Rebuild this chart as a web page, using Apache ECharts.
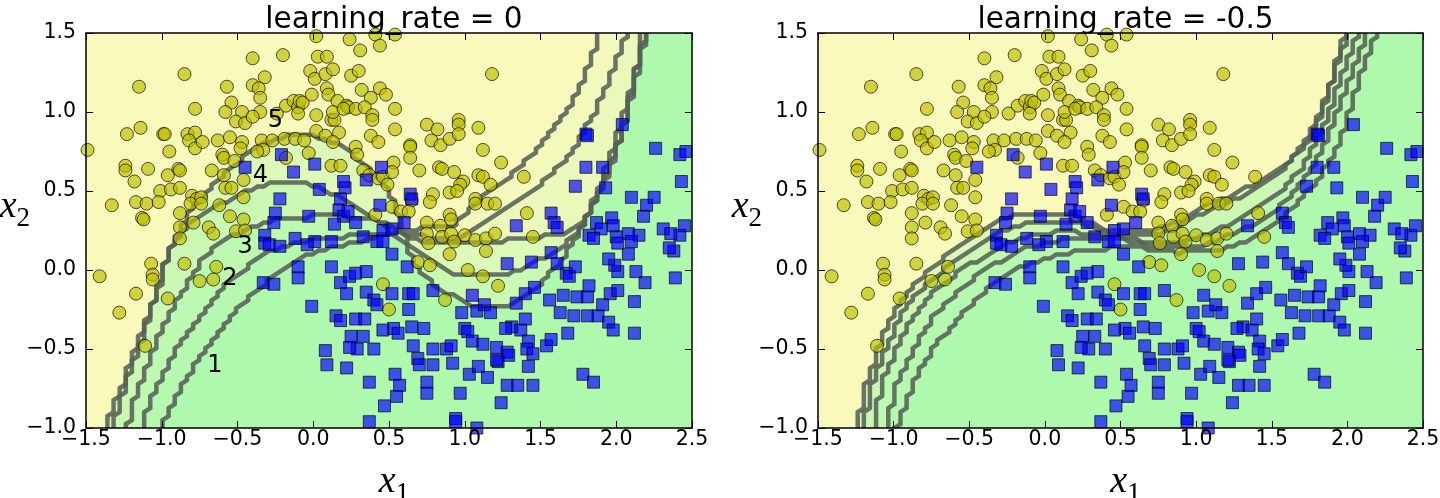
<!DOCTYPE html>
<html><head><meta charset="utf-8">
<script src="https://cdn.jsdelivr.net/npm/echarts@6/dist/echarts.min.js"></script>
<style>html,body{margin:0;padding:0;background:#fff}#c{width:1440px;height:498px}</style>
</head><body><div id="c"></div>
<script>
// ---------------- data ----------------
const titles = ['learning_rate = 0', 'learning_rate = -0.5'];
const xTickValues = [-1.5, -1.0, -0.5, 0.0, 0.5, 1.0, 1.5, 2.0, 2.5];
const xTickLabels = ['\u22121.5', '\u22121.0', '\u22120.5', '0.0', '0.5', '1.0', '1.5', '2.0', '2.5'];
const yTickValues = [-1.0, -0.5, 0.0, 0.5, 1.0, 1.5];
const yTickLabels = ['\u22121.0', '\u22120.5', '0.0', '0.5', '1.0', '1.5'];

// class 0 (yellow circles)
const yellowPts = [
[0.02,1.48],[0.24,1.46],[0.41,1.49],[0.44,1.42],[0.54,1.49],[0.31,1.39],[-0.4,1.34],[-0.2,1.36],[0.03,1.35],[0.09,1.35],
[-0.85,1.24],[-1.15,1.16],[-0.57,1.16],[-0.32,1.22],[-0.02,1.26],[0.01,1.21],[0.08,1.24],[0.13,1.27],[0.25,1.23],[0.3,1.26],
[-0.4,1.17],[-0.36,1.15],[-0.35,1.09],[0.09,1.15],[0.1,1.11],[0.16,1.07],[0.22,1.04],[0.32,1.14],[0.38,1.09],[0.44,1.15],
[0.48,1.11],[0.54,1.02],[-0.78,1.02],[-0.54,1.06],[-0.58,1.0],[-0.47,1.0],[-0.35,1.0],[-0.51,0.94],[-0.45,0.93],[-0.4,0.97],
[-0.24,0.99],[-0.18,1.04],[-0.13,1.07],[-0.1,1.03],[-0.09,1.07],[-0.07,1.06],[-0.01,1.11],[0.02,0.98],[-0.1,0.99],[0.12,0.95],
[0.14,0.95],[0.13,1.0],[0.23,1.03],[0.2,1.02],[0.28,1.02],[0.34,1.03],[0.39,0.98],[0.39,0.95],[-1.23,0.86],[-1.14,0.9],
[-0.99,0.86],[-0.98,0.86],[-0.83,0.86],[-0.78,0.87],[-0.82,0.82],[-0.78,0.77],[-0.73,0.81],[-0.95,0.75],[-0.63,0.82],[-0.55,0.84],
[-0.6,0.73],[-0.59,0.71],[-0.52,0.69],[-0.47,0.81],[-0.48,0.77],[-0.34,0.82],[-0.27,0.82],[-0.19,0.83],[-0.12,0.83],[-0.06,0.82],
[-0.33,0.76],[-0.37,0.75],[-0.03,0.74],[0.02,0.88],[0.08,0.85],[0.17,0.87],[0.13,0.81],[0.12,0.66],[0.18,0.66],[0.28,0.78],
[0.29,0.73],[0.38,0.85],[0.43,0.81],[-1.24,0.66],[-1.24,0.63],[-1.18,0.56],[-1.09,0.64],[-0.96,0.6],[-0.89,0.64],[-0.88,0.63],
[-1.01,0.5],[-0.94,0.51],[-0.88,0.52],[-1.17,0.43],[-1.1,0.42],[-1.02,0.43],[-1.33,0.41],[-1.13,0.33],[-1.12,0.32],[-0.88,0.36],
[-0.8,0.47],[-0.77,0.45],[-0.81,0.42],[-0.79,0.3],[-0.74,0.46],[-0.74,0.42],[-0.69,0.27],[-0.66,0.23],[-0.62,0.41],[-0.59,0.6],
[-0.58,0.52],[-0.54,0.52],[-0.46,0.57],[-0.46,0.46],[-0.67,0.63],[-0.51,0.245],[-0.46,0.32],[-0.45,0.25],[-0.55,0.34],[-0.88,0.27],
[-0.88,0.2],[-0.18,0.71],[0.33,0.63],[0.37,0.6],[0.43,0.58],[0.46,0.59],[0.41,0.35],[-1.49,0.76],[0.53,0.68],[0.52,0.62],
[0.52,0.4],[1.18,1.24],[0.54,0.89],[0.75,0.92],[0.82,0.89],[0.78,0.82],[0.84,0.79],[0.9,0.83],[0.96,0.95],[0.96,0.92],
[0.96,0.86],[1.09,0.9],[1.12,0.76],[1.24,0.68],[0.64,0.79],[0.64,0.78],[0.64,0.71],[0.49,0.54],[0.7,0.63],[0.83,0.65],
[0.85,0.64],[0.93,0.62],[0.99,0.56],[0.97,0.54],[0.9,0.49],[0.95,0.5],[1.09,0.6],[1.12,0.59],[1.17,0.54],[1.07,0.45],
[1.07,0.42],[1.15,0.42],[1.2,0.42],[0.79,0.48],[0.77,0.43],[0.65,0.44],[0.58,0.37],[0.63,0.37],[1.39,0.59],[1.41,0.36],
[0.75,0.3],[0.84,0.28],[0.9,0.35],[0.91,0.32],[-1.07,0.04],[-1.06,-0.03],[-1.06,-0.06],[-1.41,-0.04],[-1.17,-0.15],[-1.28,-0.27],
[-0.96,-0.18],[-0.85,0.04],[-0.75,-0.07],[-0.66,-0.06],[-0.64,0.02],[-1.11,-0.48],[0.75,0.23],[0.85,0.21],[0.91,0.23],[1.0,0.22],
[1.07,0.19],[1.14,0.2],[1.2,0.23],[1.45,0.21],[0.93,0.18],[1.14,0.12],[0.9,0.1],[0.76,0.17],[0.69,0.05],[0.77,0.03],
[1.02,0.0],[1.12,-0.04],[1.22,-0.1],[0.87,-0.19],[0.5,-0.25],[0.46,-0.09]
];

// class 1 (blue squares)
const bluePts = [
[-0.21,0.73],[-0.45,0.65],[-0.13,0.62],[0.01,0.67],[0.2,0.56],[0.21,0.52],[0.35,0.57],[0.45,0.65],[0.04,0.51],[-0.22,0.45],
[0.18,0.45],[-0.03,0.34],[-0.25,0.36],[-0.26,0.3],[0.17,0.38],[0.2,0.34],[0.23,0.37],[0.14,0.29],[0.28,0.3],[0.33,0.21],
[0.44,0.41],[0.46,0.25],[0.52,0.26],[-0.32,0.22],[-0.12,0.2],[0.01,0.18],[0.12,0.18],[1.8,0.86],[1.81,0.85],[2.04,0.92],
[2.26,0.77],[2.42,0.73],[2.46,0.75],[2.43,0.56],[1.8,0.65],[1.91,0.65],[1.73,0.53],[1.93,0.52],[2.1,0.46],[2.2,0.41],
[2.25,0.46],[2.18,0.34],[2.31,0.26],[2.42,0.22],[2.15,0.22],[0.64,0.48],[0.65,0.45],[0.6,0.3],[1.34,0.28],[1.57,0.36],
[1.59,0.3],[1.61,0.27],[1.87,0.3],[1.97,0.33],[1.98,0.28],[1.9,0.26],[1.82,0.22],[1.85,0.2],[2.0,0.21],[2.08,0.23],
[2.45,0.28],[2.36,0.23],[-0.33,-0.08],[-0.26,-0.09],[-0.32,0.17],[-0.29,0.16],[-0.22,0.15],[-0.04,0.16],[-0.1,0.02],[-0.1,-0.05],
[0.12,0.02],[-0.01,-0.23],[0.18,-0.08],[0.24,-0.04],[0.28,-0.02],[0.35,-0.01],[0.22,-0.15],[0.35,-0.14],[0.4,-0.19],[0.42,-0.22],
[0.15,-0.29],[0.18,-0.32],[0.28,-0.31],[0.34,-0.31],[0.25,-0.42],[0.33,-0.42],[0.4,-0.5],[0.29,-0.5],[0.24,-0.49],[0.08,-0.51],
[0.09,-0.6],[0.22,-0.62],[0.37,-0.71],[0.47,-0.86],[0.37,-0.96],[0.52,-0.15],[0.53,-0.37],[0.54,-0.66],[0.55,-0.8],[0.42,0.18],
[0.46,0.18],[0.52,0.1],[0.62,0.02],[0.63,-0.15],[0.66,-0.15],[0.79,-0.13],[0.63,-0.25],[0.46,-0.38],[0.56,-0.4],[0.65,-0.36],
[0.73,-0.37],[0.66,-0.48],[0.79,-0.5],[0.88,-0.5],[0.91,-0.48],[1.0,-0.37],[1.02,-0.39],[1.05,-0.45],[1.12,-0.47],[1.21,-0.49],
[1.28,-0.52],[1.29,-0.54],[1.22,-0.58],[1.31,-0.36],[1.27,-0.37],[1.37,-0.38],[1.4,-0.31],[1.42,-0.45],[1.41,-0.5],[1.45,-0.53],
[1.42,-0.61],[1.54,-0.48],[1.57,-0.44],[1.68,-0.4],[1.56,-0.19],[1.65,-0.16],[1.74,-0.17],[1.81,-0.17],[1.82,-0.1],[1.63,-0.27],
[1.72,-0.29],[1.81,-0.29],[1.88,-0.29],[1.91,-0.22],[1.96,-0.15],[2.01,-0.13],[1.95,-0.33],[1.98,-0.38],[2.12,-0.4],[2.12,-0.2],
[2.19,-0.08],[2.39,-0.05],[2.13,-0.01],[2.01,-0.01],[1.99,0.03],[1.95,0.07],[2.08,0.1],[2.01,0.17],[2.38,0.12],[2.35,0.14],
[2.1,0.18],[1.78,-0.66],[1.85,-0.71],[0.57,-0.73],[0.75,-0.71],[0.75,-0.78],[0.97,-0.78],[1.24,-0.84],[1.28,-0.73],[1.35,-0.73],
[1.45,-0.73],[1.03,-0.66],[1.09,-0.61],[1.15,-0.68],[1.21,-0.57],[0.92,-0.59],[0.79,-0.6],[0.69,-0.56],[0.7,-0.6],[0.94,-0.94],
[0.94,-0.96],[1.08,-1.0],[0.98,-0.27],[1.08,-0.26],[1.13,-0.22],[1.17,-0.27],[1.34,-0.21],[1.4,-0.15],[1.46,-0.11],[1.28,0.04],
[1.44,0.05],[1.57,0.11],[1.61,0.04],[1.67,-0.02],[1.69,-0.04],[1.73,0.02],[1.05,-0.16]
];

// decision boundaries of the 5 successive predictors (left subplot)
const leftBoundary1 = [[-1.0,-1.0],[-0.94,-0.87],[-0.88,-0.76],[-0.77,-0.59],[-0.66,-0.45],[-0.57,-0.32],[-0.46,-0.21],[-0.34,-0.1],[-0.22,-0.01],[-0.09,0.07],[0.05,0.12],[0.2,0.16],[0.35,0.19],[0.5,0.23],[0.6,0.255],[0.75,0.265],[0.92,0.28],[1.0,0.34],[1.1,0.45],[1.21,0.54],[1.32,0.61],[1.41,0.7],[1.5,0.79],[1.585,0.895],[1.67,1.0],[1.74,1.13],[1.8,1.25],[1.85,1.38],[1.89,1.5]];
const leftBoundary2 = [[-1.12,-1.0],[-1.1,-0.89],[-1.03,-0.74],[-0.96,-0.59],[-0.88,-0.47],[-0.79,-0.34],[-0.7,-0.23],[-0.62,-0.13],[-0.5,-0.03],[-0.39,0.05],[-0.29,0.12],[-0.17,0.16],[0.0,0.19],[0.2,0.21],[0.4,0.225],[0.55,0.24],[0.65,0.22],[0.8,0.205],[0.95,0.2],[1.1,0.28],[1.21,0.36],[1.32,0.41],[1.43,0.49],[1.54,0.58],[1.63,0.66],[1.72,0.77],[1.8,0.9],[1.87,1.02],[1.94,1.17],[2.0,1.32],[2.06,1.46],[2.08,1.5]];
const leftBoundary3 = [[-1.23,-1.0],[-1.19,-0.85],[-1.12,-0.68],[-1.06,-0.51],[-0.99,-0.36],[-0.9,-0.19],[-0.81,-0.05],[-0.73,0.07],[-0.64,0.16],[-0.53,0.22],[-0.42,0.26],[-0.3,0.31],[-0.2,0.33],[0.0,0.34],[0.2,0.34],[0.36,0.33],[0.46,0.3],[0.55,0.25],[0.65,0.2],[0.75,0.18],[0.9,0.175],[1.2,0.175],[1.35,0.2],[1.5,0.21],[1.62,0.22],[1.74,0.27],[1.83,0.37],[1.89,0.49],[1.96,0.64],[2.0,0.77],[2.05,0.92],[2.09,1.09],[2.135,1.28],[2.16,1.42],[2.17,1.5]];
const leftBoundary4 = [[-1.32,-1.0],[-1.28,-0.85],[-1.22,-0.68],[-1.17,-0.53],[-1.11,-0.38],[-1.06,-0.21],[-1.0,-0.04],[-0.96,0.1],[-0.9,0.2],[-0.82,0.29],[-0.7,0.37],[-0.59,0.43],[-0.48,0.48],[-0.35,0.53],[-0.22,0.555],[-0.11,0.555],[0.0,0.535],[0.13,0.48],[0.26,0.41],[0.37,0.34],[0.5,0.25],[0.6,0.18],[0.7,0.1],[0.84,0.02],[0.95,-0.034],[1.28,-0.034],[1.41,0.02],[1.54,0.09],[1.67,0.17],[1.76,0.25],[1.83,0.38],[1.9,0.52],[1.96,0.66],[2.01,0.8],[2.06,0.95],[2.1,1.1],[2.15,1.3],[2.19,1.5]];
const leftBoundary5 = [[-1.37,-1.0],[-1.32,-0.87],[-1.26,-0.74],[-1.21,-0.59],[-1.15,-0.45],[-1.09,-0.28],[-1.02,-0.11],[-0.98,0.04],[-0.92,0.17],[-0.87,0.28],[-0.8,0.39],[-0.7,0.5],[-0.62,0.58],[-0.5,0.68],[-0.4,0.76],[-0.29,0.815],[-0.18,0.85],[-0.07,0.855],[0.04,0.84],[0.15,0.8],[0.26,0.73],[0.37,0.64],[0.46,0.55],[0.53,0.44],[0.58,0.3],[0.62,0.15],[0.66,0.05],[0.75,-0.05],[0.82,-0.11],[0.95,-0.18],[1.04,-0.224],[1.28,-0.224],[1.39,-0.16],[1.5,-0.09],[1.585,0.0],[1.66,0.09],[1.74,0.21],[1.8,0.33],[1.87,0.48],[1.93,0.63],[1.99,0.79],[2.04,0.95],[2.09,1.12],[2.15,1.33],[2.21,1.5]];

// right subplot boundaries
const rightBoundary1 = [[-0.98,-1.0],[-0.87,-0.72],[-0.75,-0.51],[-0.57,-0.3],[-0.39,-0.13],[-0.17,0.02],[0.04,0.08],[0.28,0.13],[0.59,0.145],[0.89,0.11],[1.13,0.12],[1.35,0.19],[1.5,0.27],[1.65,0.4],[1.8,0.57],[1.95,0.8],[2.04,1.07],[2.1,1.28],[2.17,1.45],[2.2,1.5]];
const rightBoundary2 = [[-1.05,-1.0],[-0.98,-0.72],[-0.87,-0.5],[-0.74,-0.3],[-0.57,-0.13],[-0.4,0.0],[-0.25,0.08],[-0.1,0.15],[0.1,0.19],[0.3,0.21],[0.45,0.21],[0.6,0.17],[0.8,0.14],[1.0,0.15],[1.1,0.17],[1.25,0.23],[1.4,0.3],[1.55,0.4],[1.68,0.53],[1.8,0.7],[1.9,0.92],[2.0,1.18],[2.08,1.38],[2.13,1.5]];
const rightBoundary3 = [[-1.13,-1.0],[-1.08,-0.72],[-0.98,-0.5],[-0.88,-0.3],[-0.73,-0.13],[-0.55,0.0],[-0.4,0.09],[-0.25,0.17],[-0.1,0.22],[0.1,0.24],[0.3,0.235],[0.45,0.22],[0.6,0.19],[0.8,0.17],[0.95,0.19],[1.05,0.22],[1.15,0.26],[1.3,0.33],[1.45,0.42],[1.58,0.52],[1.7,0.65],[1.8,0.82],[1.9,1.05],[1.98,1.28],[2.05,1.45],[2.08,1.5]];
const rightBoundary4 = [[-1.2,-1.0],[-1.14,-0.72],[-1.05,-0.5],[-0.96,-0.3],[-0.83,-0.13],[-0.67,0.0],[-0.52,0.11],[-0.37,0.2],[-0.22,0.27],[-0.1,0.3],[0.2,0.3],[0.35,0.26],[0.48,0.22],[0.7,0.22],[0.85,0.26],[1.0,0.34],[1.15,0.4],[1.3,0.47],[1.45,0.55],[1.6,0.66],[1.72,0.8],[1.82,1.0],[1.9,1.2],[1.97,1.4],[2.0,1.5]];
const rightBoundary5 = [[-1.24,-1.0],[-1.18,-0.72],[-1.1,-0.5],[-1.02,-0.3],[-0.9,-0.13],[-0.77,0.0],[-0.6,0.13],[-0.45,0.23],[-0.3,0.31],[-0.17,0.355],[0.16,0.355],[0.28,0.31],[0.4,0.25],[0.55,0.24],[0.75,0.26],[0.9,0.31],[1.04,0.4],[1.2,0.46],[1.35,0.53],[1.5,0.61],[1.65,0.72],[1.77,0.86],[1.86,1.07],[1.92,1.28],[1.97,1.45],[1.98,1.5]];

// predictor number labels (left subplot)
const predictorLabels = ['1', '2', '3', '4', '5'];
const predictorLabelPos = [[-0.7,-0.65],[-0.6,-0.10],[-0.5,0.10],[-0.4,0.55],[-0.3,0.90]];

// ---------------- chart ----------------
const XMIN = -1.5, XMAX = 2.5, YMIN = -1.0, YMAX = 1.5;
const leftBounds = [leftBoundary1, leftBoundary2, leftBoundary3, leftBoundary4, leftBoundary5];
const rightBounds = [rightBoundary1, rightBoundary2, rightBoundary3, rightBoundary4, rightBoundary5];

// resolution of the prediction mesh used for the (stair-stepped) contour lines
const MESH = 100;
const meshX = [], meshY = [];
for (let i = 0; i < MESH; i++) { meshX.push(XMIN + (XMAX - XMIN) * i / (MESH - 1)); meshY.push(YMIN + (YMAX - YMIN) * i / (MESH - 1)); }

function inside(x, y, poly) {
  let c = false;
  for (let i = 0, j = poly.length - 1; i < poly.length; j = i++) {
    const xi = poly[i][0], yi = poly[i][1], xj = poly[j][0], yj = poly[j][1];
    if (((yi > y) !== (yj > y)) && (x < (xj - xi) * (y - yi) / (yj - yi) + xi)) c = !c;
  }
  return c;
}
// contour of the classifier regions on the mesh (marching squares at level 0.5)
function contourSegments(b) {
  const first = b[0], last = b[b.length - 1];
  const poly = [[first[0], YMIN - 1]].concat(b, [[last[0], YMAX + 1], [XMIN - 1, YMAX + 1], [XMIN - 1, YMIN - 1]]);
  const f = meshY.map(y => meshX.map(x => inside(x, y, poly) ? 1 : 0));
  const segs = [];
  for (let j = 0; j < MESH - 1; j++) for (let i = 0; i < MESH - 1; i++) {
    const a = f[j][i], bb = f[j][i + 1], c = f[j + 1][i + 1], d = f[j + 1][i];
    const mx = (meshX[i] + meshX[i + 1]) / 2, my = (meshY[j] + meshY[j + 1]) / 2;
    const p = [];
    if (a !== bb) p.push([mx, meshY[j]]);
    if (bb !== c) p.push([meshX[i + 1], my]);
    if (c !== d) p.push([mx, meshY[j + 1]]);
    if (d !== a) p.push([meshX[i], my]);
    if (p.length === 2) segs.push(p);
    else if (p.length === 4) { segs.push([p[0], p[3]]); segs.push([p[1], p[2]]); }
  }
  return segs;
}

const grids = [
  {left: 86, top: 33, width: 606, height: 395, containLabel: false, outerBoundsMode: 'none'},
  {left: 818, top: 33, width: 605, height: 395, containLabel: false, outerBoundsMode: 'none'}
];
const FONT = 'DejaVu Sans';
const fmtX = v => { const i = xTickValues.findIndex(t => Math.abs(t - v) < 1e-6); return i < 0 ? '' : xTickLabels[i]; };
const fmtY = v => { const i = yTickValues.findIndex(t => Math.abs(t - v) < 1e-6); return i < 0 ? '' : yTickLabels[i]; };

const mathRich = {
  i: {fontFamily: 'Liberation Serif', fontStyle: 'italic', fontSize: 38, lineHeight: 50, color: '#000', verticalAlign: 'middle'},
  s: {fontFamily: 'Liberation Serif', fontSize: 27, lineHeight: 20, color: '#000', verticalAlign: 'bottom'}
};

const xAxes = [], yAxes = [], series = [];
grids.forEach((g, gi) => {
  const base = {
    type: 'value', gridIndex: gi, z: 10,
    axisLine: {show: true, onZero: false, lineStyle: {color: '#000', width: 1.5}},
    axisTick: {show: true, inside: true, length: 7, lineStyle: {color: '#000', width: 1}},
    splitLine: {show: false}
  };
  xAxes.push(Object.assign({}, base, {
    position: 'bottom', min: XMIN, max: XMAX, interval: 0.5,
    axisLabel: {show: true, margin: 1, fontFamily: FONT, fontSize: 20.5, color: '#000', formatter: fmtX, showMinLabel: true, showMaxLabel: true, hideOverlap: false},
    name: '{i|x}{s|1}', nameLocation: 'middle', nameGap: 29, nameMoveOverlap: false,
    nameTextStyle: {rich: mathRich, padding: [0, 0, 0, 10]}
  }));
  xAxes.push(Object.assign({}, base, {
    position: 'top', min: XMIN, max: XMAX, interval: 0.5, axisLabel: {show: false}
  }));
  yAxes.push(Object.assign({}, base, {
    position: 'left', min: YMIN, max: YMAX, interval: 0.5,
    axisLabel: {show: true, margin: 10, fontFamily: FONT, fontSize: 20.5, color: '#000', formatter: fmtY, showMinLabel: true, showMaxLabel: true, hideOverlap: false},
    name: '{i|x}{s|2}', nameLocation: 'middle', nameGap: 56, nameRotate: 0, nameMoveOverlap: false,
    nameTextStyle: {rich: mathRich, align: 'right', verticalAlign: 'middle', padding: [0, 0, 46, 0]}
  }));
  yAxes.push(Object.assign({}, base, {
    position: 'right', min: YMIN, max: YMAX, interval: 0.5, axisLabel: {show: false}
  }));

  const bounds = gi === 0 ? leftBounds : rightBounds;
  const segsPerBound = bounds.map(contourSegments);
  const xi = gi * 2, yi = gi * 2;
  // filled decision regions (one yellow + one green layer per predictor, alpha 0.3 each)
  series.push({
    type: 'custom', xAxisIndex: xi, yAxisIndex: yi, z: 1, silent: true, animation: false, clip: true,
    data: bounds.map(b => b[0]),
    renderItem: (params, api) => {
      const b = bounds[params.dataIndex];
      const pts = b.map(p => api.coord(p));
      const yellow = pts.concat([api.coord([XMIN, YMAX]), api.coord([XMIN, YMIN])]);
      const green = pts.concat([api.coord([XMAX, YMAX]), api.coord([XMAX, YMIN])]);
      return {type: 'group', children: [
        {type: 'polygon', shape: {points: yellow}, style: {fill: 'rgba(250,250,176,0.3)'}},
        {type: 'polygon', shape: {points: green}, style: {fill: 'rgba(160,250,160,0.3)'}}
      ]};
    }
  });
  // boundary lines (stair-stepped as on the prediction mesh)
  series.push({
    type: 'custom', xAxisIndex: xi, yAxisIndex: yi, z: 3, silent: true, animation: false, clip: true,
    data: bounds.map(b => b[0]),
    renderItem: (params, api) => {
      const segs = segsPerBound[params.dataIndex];
      let d = '';
      segs.forEach(s => {
        const p0 = api.coord(s[0]), p1 = api.coord(s[1]);
        d += 'M' + p0[0].toFixed(2) + ' ' + p0[1].toFixed(2) + 'L' + p1[0].toFixed(2) + ' ' + p1[1].toFixed(2);
      });
      return {type: 'path', shape: {pathData: d}, style: {fill: null, stroke: '#566156', lineWidth: 4.5, opacity: 0.88, lineCap: 'round', lineJoin: 'round'}};
    }
  });
  // samples
  series.push({
    type: 'scatter', xAxisIndex: xi, yAxisIndex: yi, z: 4, silent: true, animation: false,
    data: yellowPts, symbol: 'circle', symbolSize: 13,
    itemStyle: {color: '#bfbf00', borderColor: '#000', borderWidth: 1, opacity: 0.67}
  });
  series.push({
    type: 'scatter', xAxisIndex: xi, yAxisIndex: yi, z: 4, silent: true, animation: false,
    data: bluePts, symbol: 'rect', symbolSize: 12,
    itemStyle: {color: '#0000ff', borderColor: '#000', borderWidth: 1, opacity: 0.67}
  });
});

// predictor labels on left subplot
series.push({
  type: 'custom', xAxisIndex: 0, yAxisIndex: 0, z: 5, silent: true, animation: false,
  data: predictorLabelPos,
  renderItem: (params, api) => {
    const p = api.coord([api.value(0), api.value(1)]);
    return {type: 'text', x: p[0], y: p[1] + 5, style: {
      text: predictorLabels[params.dataIndex], fill: '#000', font: '24px "DejaVu Sans"', align: 'left', verticalAlign: 'bottom'}};
  }
});

const option = {
  animation: false,
  backgroundColor: '#fff',
  title: titles.map((t, i) => ({
    text: t, left: grids[i].left + grids[i].width / 2, top: 0, textAlign: 'center',
    textStyle: {fontFamily: FONT, fontSize: 29.5, fontWeight: 'normal', color: '#000'}
  })),
  grid: grids,
  xAxis: xAxes,
  yAxis: yAxes,
  series: series
};
const chart = echarts.init(document.getElementById('c'), null, {renderer: 'canvas'});
chart.setOption(option);
</script>
</body></html>
